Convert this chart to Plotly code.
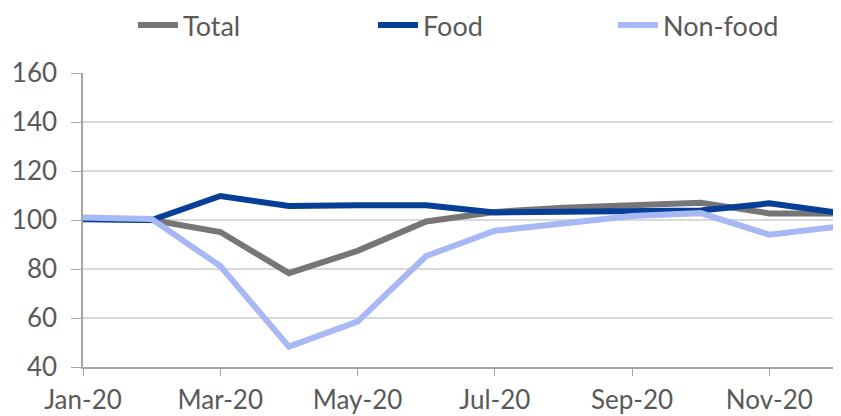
import plotly.graph_objects as go

months = ["Jan-20", "Feb-20", "Mar-20", "Apr-20", "May-20", "Jun-20",
          "Jul-20", "Aug-20", "Sep-20", "Oct-20", "Nov-20", "Dec-20"]
total = [100.5, 100.0, 95.1, 78.3, 87.4, 99.4, 103.3, 105.0, 106.0, 107.0, 102.7, 102.7]
food = [100.3, 100.0, 109.8, 105.7, 106.0, 106.0, 103.1, 103.3, 103.6, 103.9, 106.8, 103.0]
nonfood = [101.0, 100.4, 81.2, 48.3, 58.5, 85.3, 95.6, 98.5, 101.6, 102.8, 94.0, 97.3]
tick_labels = months[::2]
y_ticks = [40, 60, 80, 100, 120, 140, 160]

font_family = "Lato, 'Open Sans', sans-serif"
text_color = "#595959"

fig = go.Figure()
fig.add_trace(go.Scatter(x=months, y=total, name="Total", mode="lines",
                         line=dict(color="#767676", width=6)))
fig.add_trace(go.Scatter(x=months, y=food, name="Food", mode="lines",
                         line=dict(color="#063F95", width=6)))
fig.add_trace(go.Scatter(x=months, y=nonfood, name="Non-food", mode="lines",
                         line=dict(color="#A8B8F5", width=6)))

W, H = 833, 408  # page body has an 8px margin in the viewer
T, B = 65, 49
plot_h = H - T - B
fig.update_layout(
    width=W, height=H,
    margin=dict(l=75, r=3, t=T, b=B, autoexpand=False),
    plot_bgcolor="white", paper_bgcolor="white",
    font=dict(family=font_family, size=26, color=text_color),
    showlegend=True,
    legend=dict(orientation="h", x=125 / W, xanchor="left", xref="container",
                y=1 + (T + 7) / plot_h, yanchor="top", yref="paper", entrywidth=185,
                font=dict(size=27, color=text_color), itemwidth=40),
    xaxis=dict(type="category", range=[0, 11], tickmode="array",
               tickvals=tick_labels, ticktext=tick_labels, automargin=False,
               showgrid=False, showline=True, linecolor="#a6a6a6", linewidth=1.5,
               ticks="outside", ticklen=7, tickcolor="#a6a6a6", zeroline=False,
               ticklabelstandoff=2),
    yaxis=dict(range=[40, 160], tickvals=y_ticks, showgrid=True, automargin=False,
               gridcolor="#d9d9d9", gridwidth=1.5, showline=True,
               linecolor="#a6a6a6", linewidth=1.5, ticks="outside", ticklen=10,
               tickcolor="#a6a6a6", zeroline=False, ticklabelstandoff=9),
)
fig.write_html("out.html")
